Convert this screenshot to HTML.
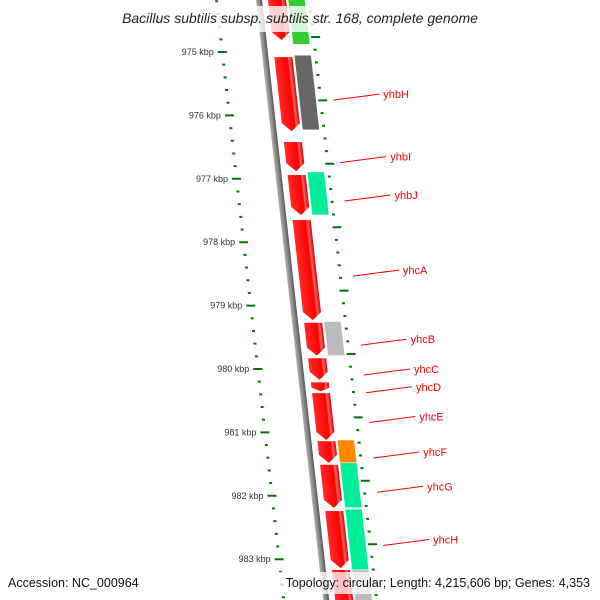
<!DOCTYPE html>
<html><head><meta charset="utf-8"><style>
html,body{margin:0;padding:0;background:#fff;width:600px;height:600px;overflow:hidden}
svg{display:block;font-family:"Liberation Sans",sans-serif}
</style></head><body>
<svg id="map" width="600" height="600" viewBox="0 0 600 600" xmlns="http://www.w3.org/2000/svg">
<defs>
<linearGradient id="gRed" x1="0" x2="1"><stop offset="0" stop-color="#ff2a2a"/><stop offset="0.7" stop-color="#f00"/><stop offset="0.8" stop-color="#ff6060"/><stop offset="1" stop-color="#d00"/></linearGradient>
<linearGradient id="gBack" x1="0" x2="1"><stop offset="0" stop-color="#b0b0b0"/><stop offset="0.5" stop-color="#888"/><stop offset="1" stop-color="#555"/></linearGradient>
</defs>
<g id="shapes" transform="matrix(1,0,0.112,1,0,0)"></g>
<g id="labels"></g>
<rect x="100" y="6" width="400" height="26" fill="#fff" opacity="0.8"/>
<text x="300" y="23" text-anchor="middle" font-size="14" font-style="italic" fill="#222">Bacillus subtilis subsp. subtilis str. 168, complete genome</text>
<rect x="255" y="572" width="340" height="22" fill="#fff" opacity="0.75"/>
<text x="8" y="587" font-size="12.5" fill="#111">Accession: NC_000964</text>
<text x="590" y="587" text-anchor="end" font-size="12.5" fill="#111">Topology: circular; Length: 4,215,606 bp; Genes: 4,353</text>
</svg>
<script>
const tickKbp = [975, 976, 977, 978, 979, 980, 981, 982, 983];
const geneNames = ["yhbG","yhbH","yhbI","yhbJ","yhcA","yhcB","yhcC","yhcD","yhcE","yhcF","yhcG","yhcH","yhcI"];
const geneStart = [974.1, 975.08, 976.42, 976.94, 977.65, 979.27, 979.83, 980.21, 980.38, 981.14, 981.51, 982.24, 983.17];
const geneEnd   = [974.81, 976.25, 976.88, 977.57, 979.23, 979.79, 980.17, 980.35, 981.12, 981.48, 982.19, 983.14, 984.0];
const cogColor  = ["#33cc33","#666666",null,"#00ee99",null,"#bbbbbb",null,null,null,"#ff8800","#00ee99","#00ee99","#bbbbbb"];
const cogStart  = [974.1, 975.05, 0, 976.89, 0, 979.25, 0, 0, 0, 981.12, 981.48, 982.21, 983.17];
const cogEnd    = [974.88, 976.23, 0, 977.57, 0, 979.79, 0, 0, 0, 981.48, 982.19, 983.17, 984.0];
const labeled   = [false,true,true,true,true,true,true,true,true,true,true,true,false];

const NS="http://www.w3.org/2000/svg";
const Y0=52, PX=63.4;
function yScale(k){return Y0+(k-975)*PX;}
function sx(x,y){return x+0.112*y;}
const shapes=document.getElementById('shapes');
const labels=document.getElementById('labels');
function mk(tag,attrs,parent){const e=document.createElementNS(NS,tag);for(const k in attrs)e.setAttribute(k,attrs[k]);parent.appendChild(e);return e;}

// backbone
const bb=mk('rect',{x:256,y:-10,width:6,height:620,fill:'url(#gBack)'},shapes);



// ticks
for(let k=974;k<=984.01;k+=0.2){
  const kk=Math.round(k*10)/10;
  const y=yScale(kk);
  const major=Math.abs(kk-Math.round(kk))<0.01;
  const t=mk('rect',{x:major?212:215,y:y-1,width:major?9:3,height:2,fill:'#007700'},shapes);
  
  
  const yr=y-15;
  const t2=mk('rect',{x:major?307:308,y:yr-1,width:major?9:3,height:2,fill:'#007700'},shapes);
  
  
}
tickKbp.forEach(k=>{
  const y=yScale(k);
  const t=mk('text',{x:sx(208,y),y:y+3,'text-anchor':'end','font-size':9,fill:'#333'},labels);
  t.textContent=k+' kbp';
  
  
});

// genes
geneNames.forEach((n,i)=>{
  const y1=yScale(geneStart[i]), y2=yScale(geneEnd[i]);
  const h=Math.min(8,(y2-y1)*0.4);
  const p=mk('polygon',{points:`268,${y1} 286,${y1} 286,${y2-h} 277,${y2} 268,${y2-h}`,fill:'url(#gRed)'},shapes);
  
  
  if(cogColor[i]){
    const c1=yScale(cogStart[i]), c2=yScale(cogEnd[i]);
    const r=mk('rect',{x:288,y:c1,width:17,height:c2-c1,fill:cogColor[i],stroke:'#fff','stroke-width':0.6},shapes);
    
    
  }
  if(labeled[i]){
    const ym=(y1+y2)/2;
    const ya=ym+6;
    const x1=sx(318,ya)+4, x2=x1+46;
    const l=mk('line',{x1:x1,y1:ya,x2:x2,y2:ya-6,stroke:'#f00','stroke-width':1},labels);
    
    
    const t=mk('text',{x:x2+4,y:ya-2,'font-size':11,fill:'#f00'},labels);
    t.textContent=n;
    
    
  }
});
</script>
</body></html>
